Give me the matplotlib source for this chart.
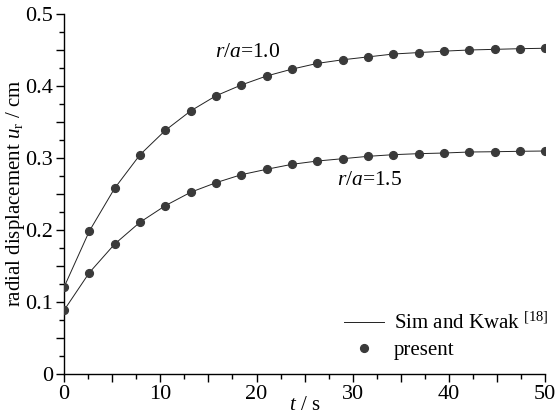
import matplotlib
matplotlib.use("Agg")
import matplotlib.pyplot as plt
from matplotlib.ticker import MultipleLocator, FuncFormatter
import numpy as np

plt.rcParams['font.family'] = ['Liberation Serif', 'DejaVu Serif']
plt.rcParams['mathtext.fontset'] = 'custom'
plt.rcParams['mathtext.rm'] = 'Liberation Serif'
plt.rcParams['mathtext.it'] = 'Liberation Serif:italic'

t = [0.0, 2.63, 5.26, 7.89, 10.53, 13.16, 15.79, 18.42, 21.05, 23.68,
     26.32, 28.95, 31.58, 34.21, 36.84, 39.47, 42.11, 44.74, 47.37, 50.0]
u_10 = [0.120, 0.198, 0.2575, 0.304, 0.338, 0.365, 0.386, 0.401, 0.4135, 0.423,
        0.431, 0.436, 0.440, 0.444, 0.446, 0.448, 0.4496, 0.4505, 0.4514, 0.452]
u_15 = [0.088, 0.1403, 0.180, 0.2103, 0.2334, 0.252, 0.2653, 0.2764, 0.2839, 0.2908,
        0.2954, 0.2986, 0.3019, 0.3042, 0.3056, 0.3065, 0.3079, 0.3083, 0.3089, 0.3093]
ref_10 = u_10
ref_15 = u_15

fig = plt.figure(figsize=(5.55, 4.17), dpi=100)
ax = fig.add_axes([64/555, 1-373.7/417, (545.3-64)/555, (373.7-13.7)/417])

lc = '#222222'
mc = '#3a3a3a'
ax.plot(t, ref_10, '-', color=lc, lw=0.7, label='Sim and Kwak $^{\\rm [18]}$', zorder=2)
ax.plot(t, ref_15, '-', color=lc, lw=0.7, zorder=2)
ax.plot(t, u_10, 'o', color=mc, ms=5.6, mec=mc, label='present', zorder=3)
ax.plot(t, u_15, 'o', color=mc, ms=5.6, mec=mc, zorder=3)

ax.set_xlim(0, 50)
ax.set_ylim(0, 0.5)
for s in ['top', 'right']:
    ax.spines[s].set_visible(False)
for s in ['left', 'bottom']:
    ax.spines[s].set_linewidth(1.0)

ax.xaxis.set_major_locator(MultipleLocator(5))
ax.xaxis.set_minor_locator(MultipleLocator(2.5))
ax.yaxis.set_major_locator(MultipleLocator(0.05))
ax.yaxis.set_minor_locator(MultipleLocator(0.025))

def xfmt(v, p):
    return f"{int(round(v))}" if abs(v/10 - round(v/10)) < 1e-6 else ""
def yfmt(v, p):
    if abs(v*10 - round(v*10)) > 1e-6:
        return ""
    return "0" if abs(v) < 1e-9 else f"{v:.1f}"
ax.xaxis.set_major_formatter(FuncFormatter(xfmt))
ax.yaxis.set_major_formatter(FuncFormatter(yfmt))
ax.tick_params(which='major', direction='out', length=6, width=1.0, labelsize=16, pad=2)
ax.tick_params(which='minor', direction='out', length=3.5, width=1.0)

ax.set_xlabel('$t$ / s', fontsize=15)
ax.set_ylabel('radial displacement $u_{\\rm r}$ / cm', fontsize=15)
ax.xaxis.set_label_coords(0.5, -(396 - 373.7) / 360)
ax.yaxis.set_label_coords((27 - 64) / 481.3, 0.5)

ax.text(15.7, 0.446, '$r/a$=1.0', fontsize=15.5, va='center', ha='left')
ax.text(28.33, 0.269, '$r/a$=1.5', fontsize=15.5, va='center', ha='left')

leg = ax.legend(loc='upper left', bbox_to_anchor=((344-64)/481.3, (373.7-313)/360),
                frameon=False, fontsize=15, handlelength=1.9, handletextpad=0.5,
                borderpad=0, borderaxespad=0, labelspacing=0.3)

fig.savefig('out.png', dpi=100)
